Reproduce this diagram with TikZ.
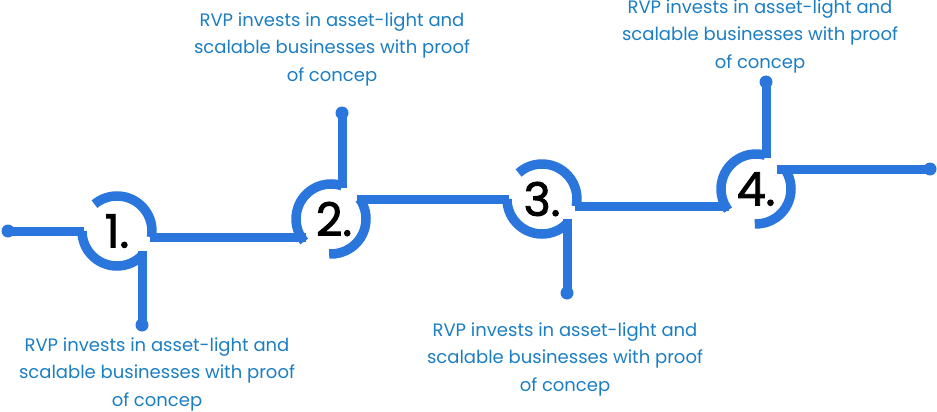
\documentclass[tikz,border=0pt]{standalone}
\usepackage{fontspec}
\setmainfont{Poppins}
\newfontfamily\stepfont[FakeBold=2]{Poppins}
\usetikzlibrary{calc}
\definecolor{linkblue}{HTML}{2B76DD}
\definecolor{textblue}{HTML}{1B7EC2}
\tikzset{
  wire/.style={draw=linkblue, line width=9pt},
  ring/.style={draw=linkblue, line width=9.5pt},
  enddot/.style={circle, fill=linkblue, inner sep=0pt, minimum size=13pt},
  num/.style={font=\stepfont\fontsize{46}{46}\selectfont, text=black, inner sep=0pt},
  caption/.style={font=\fontsize{18}{27.5}\selectfont, text=textblue, align=center, inner sep=0pt},
}
\begin{document}
\begin{tikzpicture}[x=1pt,y=-1pt]
\useasboundingbox (0,0) rectangle (937,412);

% step centres
\coordinate (c1) at (117,231);
\coordinate (c2) at (331,219);
\coordinate (c3) at (542,199);
\coordinate (c4) at (756,189);

% free ends with dots
\node[enddot] (d0) at (8,231) {};
\node[enddot] (d1) at (142,325) {};
\node[enddot] (d2) at (342,113) {};
\node[enddot] (d3) at (567,293) {};
\node[enddot] (d4) at (766,82) {};
\node[enddot] (d5) at (930,169) {};

% junction points on the rings
\coordinate (j1l) at (84,231);
\coordinate (j1b) at (142,251);
\coordinate (j1r) at (150,237);
\coordinate (j2l) at (306,237);
\coordinate (j2t) at (342,188);
\coordinate (j2r) at (357,199);
\coordinate (j3l) at (509,199);
\coordinate (j3b) at (567,219);
\coordinate (j3r) at (575,206);
\coordinate (j4l) at (729,206);
\coordinate (j4t) at (766,158);
\coordinate (j4r) at (777,169);

% rings, each split in two arcs
\draw[ring] (c1) ++(180:35) arc (180:44:35);
\draw[ring] (c1) ++(230:35) arc (230:370:35);
\draw[ring] (c2) ++(-72:35) arc (-72:-220:35);
\draw[ring] (c2) ++(-35:35) arc (-35:93:35);
\draw[ring] (c3) ++(180:35) arc (180:44:35);
\draw[ring] (c3) ++(228:35) arc (228:372:35);
\draw[ring] (c4) ++(-75:35) arc (-75:-217:35);
\draw[ring] (c4) ++(-35:35) arc (-35:92:35);

% connectors
\draw[wire] (d0.center) -- (j1l);
\draw[wire] (j1b) -- (d1.center);
\draw[wire] (j1r) -- (j2l);
\draw[wire] (d2.center) -- (j2t);
\draw[wire] (j2r) -- (j3l);
\draw[wire] (j3b) -- (d3.center);
\draw[wire] (j3r) -- (j4l);
\draw[wire] (d4.center) -- (j4t);
\draw[wire] (j4r) -- (d5.center);

% step numbers
\node[num] (n1) at (c1) {1.};
\node[num] (n2) at ([xshift=3pt]c2) {2.};
\node[num] (n3) at (c3) {3.};
\node[num] (n4) at (c4) {4.};

% captions
\node[caption] (t1) at (157,374) {RVP invests in asset-light and\\scalable businesses with proof\\of concep};
\node[caption] (t2) at (332,49) {RVP invests in asset-light and\\scalable businesses with proof\\of concep};
\node[caption] (t3) at (565,359) {RVP invests in asset-light and\\scalable businesses with proof\\of concep};
\node[caption] (t4) at (760,36) {RVP invests in asset-light and\\scalable businesses with proof\\of concep};
\end{tikzpicture}
\end{document}
